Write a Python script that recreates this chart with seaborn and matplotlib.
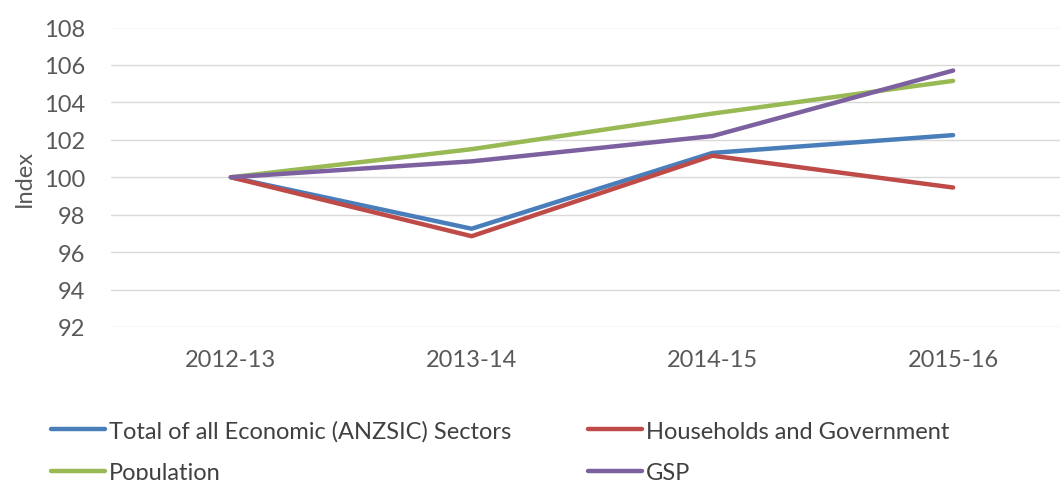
import pandas as pd
import matplotlib
matplotlib.use('Agg')
import matplotlib.pyplot as plt
import seaborn as sns

# Index values (2012-13 = 100)
years = ['2012-13', '2013-14', '2014-15', '2015-16']
total_sectors = [100.0, 97.25, 101.3, 102.25]
households_gov = [100.0, 96.85, 101.15, 99.45]
population = [100.0, 101.5, 103.4, 105.15]
gsp = [100.0, 100.85, 102.2, 105.7]

series_names = ['Total of all Economic (ANZSIC) Sectors', 'Households and Government',
                'Population', 'GSP']
colors = ['#4A7EBB', '#BE4B48', '#98B954', '#7D60A0']

df = pd.DataFrame({
    'year': years * 4,
    'value': total_sectors + households_gov + population + gsp,
    'series': [s for s in series_names for _ in years],
})

sns.set_style('white')
plt.rcParams['font.family'] = ['Lato', 'DejaVu Sans']
text_col = '#595959'

fig = plt.figure(figsize=(10.6, 4.81), dpi=100)
ax = fig.add_axes([110.5 / 1060, 1 - 328 / 481, 963 / 1060, (328 - 28.5) / 481])

sns.lineplot(data=df, x='year', y='value', hue='series', hue_order=series_names,
             palette=colors, linewidth=3.2, sort=False, ax=ax, legend=True)

ax.set_xlim(-0.5, 3.5)
ax.set_ylim(92, 108)
ax.set_yticks(range(92, 109, 2))
ax.yaxis.grid(True, color='#D9D9D9', linewidth=1)
ax.set_axisbelow(True)
for s in ax.spines.values():
    s.set_visible(False)
ax.tick_params(axis='both', length=0, labelsize=17, colors=text_col)
ax.tick_params(axis='x', pad=16)
ax.tick_params(axis='y', pad=18)
ax.set_xlabel('')
ax.set_ylabel('Index', fontsize=17, color=text_col, labelpad=7)

handles, labels = ax.get_legend_handles_labels()
ax.get_legend().remove()
order = [0, 2, 1, 3]
fig.legend([handles[i] for i in order], [labels[i] for i in order],
           loc='upper left', bbox_to_anchor=(51 / 1060, 1 - 421 / 481), ncol=2,
           frameon=False, fontsize=17, handlelength=2.3, handletextpad=0.15,
           columnspacing=3.25, labelspacing=0.88, borderpad=0, borderaxespad=0,
           labelcolor='#404040')

fig.savefig('out.png', dpi=100)
